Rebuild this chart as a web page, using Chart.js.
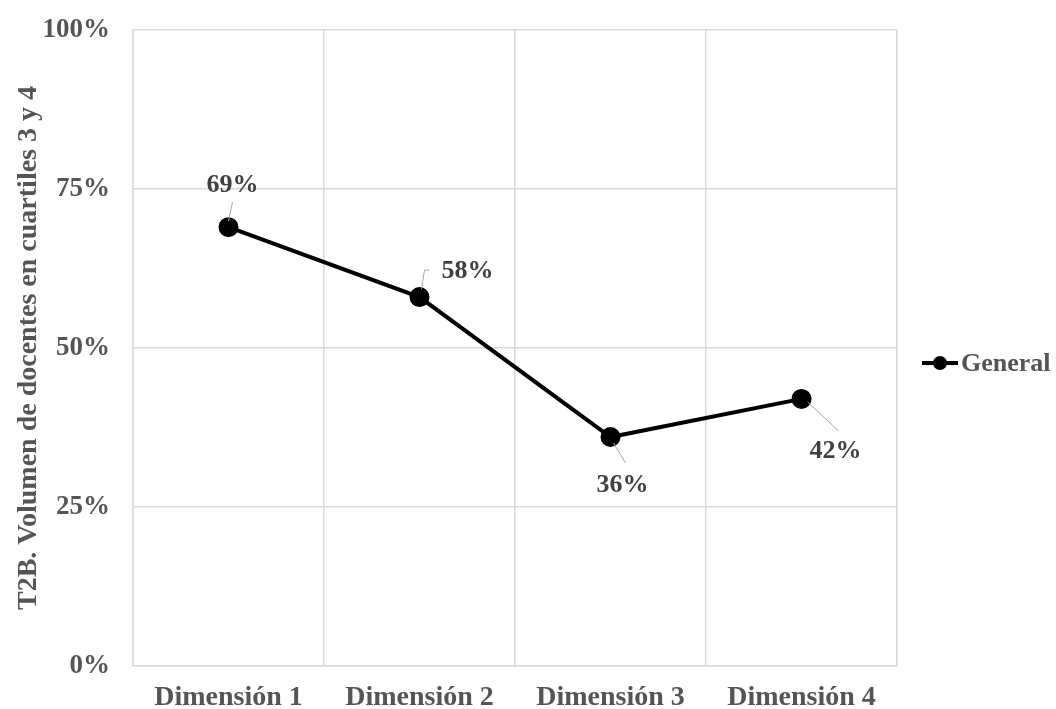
<!DOCTYPE html>
<html>
<head>
<meta charset="utf-8">
<script src="https://cdn.jsdelivr.net/npm/chart.js@4.4.1/dist/chart.umd.min.js"></script>
<style>
  html, body { margin: 0; padding: 0; background: #ffffff; }
  #wrap { width: 1056px; height: 709px; position: relative; }
</style>
</head>
<body>
<div id="wrap"><canvas id="chart" width="1056" height="709"></canvas></div>
<script>
// Categories and series
const categories = ['Dimensión 1', 'Dimensión 2', 'Dimensión 3', 'Dimensión 4'];
const generalValues = [69, 58, 36, 42];
const seriesName = 'General';
const yTicks = [0, 25, 50, 75, 100];
const yTitle = 'T2B. Volumen de docentes en cuartiles 3 y 4';

const FONT = '"Liberation Serif", "Times New Roman", serif';
const TEXT = '#555555';
const GRID = '#d9d9d9';

// Placement of each value label relative to its point: label centre offset and leader line
const labelPlacement = [
  { dx: 4,  dy: -42, lead: [[0, -6], [4, -25]] },
  { dx: 48, dy: -26, lead: [[2, -8], [5, -27], [10, -27]] },
  { dx: 12, dy: 48,  lead: [[3, 6], [15, 26]] },
  { dx: 34, dy: 52,  lead: [[6, 3], [37, 32]] }
];

const valueLabels = {
  id: 'valueLabels',
  afterDatasetsDraw(chart) {
    const ctx = chart.ctx;
    const meta = chart.getDatasetMeta(0);
    ctx.save();
    meta.data.forEach((pt, i) => {
      const p = labelPlacement[i];
      ctx.strokeStyle = '#a6a6a6';
      ctx.lineWidth = 1;
      ctx.beginPath();
      p.lead.forEach((o, k) => {
        const x = pt.x + o[0], y = pt.y + o[1];
        if (k === 0) ctx.moveTo(x, y); else ctx.lineTo(x, y);
      });
      ctx.stroke();
      ctx.fillStyle = '#404040';
      ctx.font = 'bold 26px ' + FONT;
      ctx.textAlign = 'center';
      ctx.textBaseline = 'middle';
      ctx.fillText(generalValues[i] + '%', pt.x + p.dx, pt.y + p.dy);
    });
    ctx.restore();
  }
};

// Legend entry drawn to the right of the plot area
const sideLegend = {
  id: 'sideLegend',
  afterDraw(chart) {
    const ctx = chart.ctx;
    const area = chart.chartArea;
    const y = (area.top + area.bottom) / 2 + 15;
    const x0 = area.right + 25;
    ctx.save();
    ctx.strokeStyle = '#000';
    ctx.lineWidth = 4;
    ctx.beginPath();
    ctx.moveTo(x0, y);
    ctx.lineTo(x0 + 36, y);
    ctx.stroke();
    ctx.fillStyle = '#000';
    ctx.beginPath();
    ctx.arc(x0 + 18, y, 7, 0, Math.PI * 2);
    ctx.fill();
    ctx.fillStyle = TEXT;
    ctx.font = 'bold 26px ' + FONT;
    ctx.textAlign = 'left';
    ctx.textBaseline = 'middle';
    ctx.fillText(seriesName, x0 + 39, y + 1);
    ctx.restore();
  }
};

new Chart(document.getElementById('chart'), {
  type: 'line',
  data: {
    labels: categories,
    datasets: [{
      label: seriesName,
      data: generalValues,
      borderColor: '#000000',
      backgroundColor: '#000000',
      borderWidth: 4,
      pointRadius: 8,
      pointHoverRadius: 8,
      pointBackgroundColor: '#000000',
      pointBorderColor: '#000000',
      tension: 0
    }]
  },
  options: {
    responsive: false,
    animation: false,
    devicePixelRatio: 1,
    layout: { padding: { top: 30, right: 159, bottom: 0, left: 0 } },
    plugins: { legend: { display: false }, tooltip: { enabled: false } },
    scales: {
      x: {
        offset: true,
        grid: { offset: true, color: GRID, lineWidth: 1.5, drawTicks: false },
        border: { color: GRID, width: 1.5 },
        ticks: { color: TEXT, font: { family: FONT, size: 28, weight: 'bold' }, padding: 15 },
        afterFit(scale) { scale.height = 43; scale.paddingLeft = 0; scale.paddingRight = 0; }
      },
      y: {
        min: 0,
        max: 100,
        afterBuildTicks(scale) { scale.ticks = yTicks.map(v => ({ value: v })); },
        grid: { color: GRID, lineWidth: 1.5, drawTicks: false },
        border: { color: GRID, width: 1.5 },
        ticks: {
          color: TEXT,
          font: { family: FONT, size: 27, weight: 'bold' },
          padding: 23,
          callback: v => v + '%'
        },
        title: {
          display: true,
          text: yTitle,
          color: TEXT,
          font: { family: FONT, size: 28, weight: 'bold' },
          padding: { top: 12, bottom: 0 }
        },
        afterFit(scale) { scale.width = 133; scale.paddingTop = 0; scale.paddingBottom = 0; }
      }
    }
  },
  plugins: [valueLabels, sideLegend]
});
</script>
</body>
</html>
